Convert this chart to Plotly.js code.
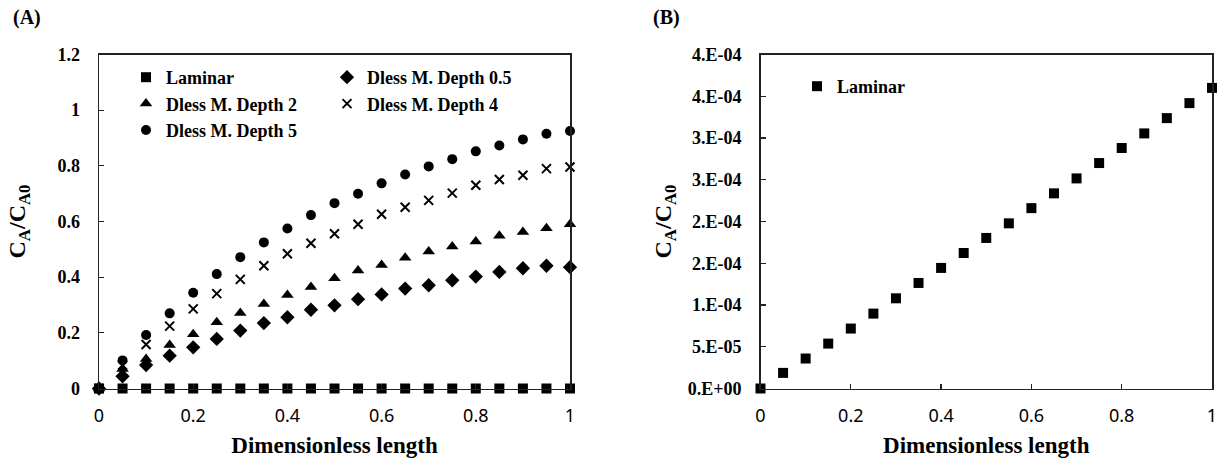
<!DOCTYPE html>
<html>
<head>
<meta charset="utf-8">
<script src="https://cdn.plot.ly/plotly-3.0.1.min.js"></script>
<style>html,body{margin:0;padding:0;background:#fff;}#chart{width:1223px;height:471px;}</style>
</head>
<body>
<div id="chart"></div>
<script>
// ---- data ----
const xLen = [0, 0.05, 0.1, 0.15, 0.2, 0.25, 0.3, 0.35, 0.4, 0.45, 0.5, 0.55, 0.6, 0.65, 0.7, 0.75, 0.8, 0.85, 0.9, 0.95, 1.0];
const laminarA = [0, 0, 0, 0, 0, 0, 0, 0, 0, 0, 0, 0, 0, 0, 0, 0, 0, 0, 0, 0, 0];
const depth05 = [0, 0.044, 0.084, 0.118, 0.148, 0.178, 0.208, 0.235, 0.256, 0.283, 0.299, 0.321, 0.338, 0.359, 0.371, 0.389, 0.402, 0.419, 0.432, 0.441, 0.436];
const depth2  = [0, 0.07, 0.106, 0.156, 0.195, 0.238, 0.271, 0.304, 0.336, 0.365, 0.396, 0.424, 0.444, 0.47, 0.492, 0.51, 0.528, 0.549, 0.562, 0.576, 0.59];
const depth4  = [0, 0.084, 0.158, 0.224, 0.286, 0.341, 0.392, 0.441, 0.484, 0.522, 0.556, 0.59, 0.626, 0.651, 0.676, 0.702, 0.73, 0.751, 0.766, 0.79, 0.796];
const depth5  = [0, 0.101, 0.192, 0.27, 0.344, 0.411, 0.472, 0.525, 0.575, 0.623, 0.666, 0.70, 0.737, 0.769, 0.798, 0.824, 0.852, 0.873, 0.895, 0.915, 0.925];
const laminarB = [0, 1.87e-5, 3.59e-5, 5.38e-5, 7.18e-5, 8.97e-5, 1.08e-4, 1.264e-4, 1.444e-4, 1.623e-4, 1.803e-4, 1.978e-4, 2.16e-4, 2.337e-4, 2.516e-4, 2.70e-4, 2.88e-4, 3.055e-4, 3.238e-4, 3.418e-4, 3.60e-4];
const seriesNames = ["Laminar", "Dless M. Depth 0.5", "Dless M. Depth 2", "Dless M. Depth 4", "Dless M. Depth 5"];
const yTickValsB = [0, 5e-5, 1e-4, 1.5e-4, 2e-4, 2.5e-4, 3e-4, 3.5e-4, 4e-4];
const yTickTextB = ["0.E+00", "5.E-05", "1.E-04", "2.E-04", "2.E-04", "3.E-04", "3.E-04", "4.E-04", "4.E-04"];
const xTitle = "Dimensionless length";
const yTitle = "C<sub>A</sub>/C<sub>A0</sub>";

// ---- styles ----
const serif = "Liberation Serif, Times New Roman, serif";
const sans = "Noto Sans, Liberation Sans, sans-serif";
function sc(y, name, symbol, size, legend, xa, ya, lineW) {
  return {
    x: xLen, y: y, name: name, type: "scatter", mode: "markers",
    xaxis: xa || "x", yaxis: ya || "y", legend: legend, cliponaxis: false,
    marker: {symbol: symbol, size: size, color: "#000", line: {color: "#000", width: lineW || 0}}
  };
}
const traces = [
  sc(laminarA, seriesNames[0], "square", 10, "legend"),
  sc(depth05, seriesNames[1], "diamond", 11, "legend2"),
  sc(depth2, seriesNames[2], "triangle-up", 11, "legend"),
  sc(depth4, seriesNames[3], "x-thin-open", 9, "legend2", null, null, 2),
  sc(depth5, seriesNames[4], "circle", 10, "legend"),
  sc(laminarB, seriesNames[0], "square", 10, "legend3", "x2", "y2")
];

const axisCommon = {
  showline: true, mirror: true, linecolor: "#222", linewidth: 1.5,
  showgrid: false, zeroline: false, ticks: "inside", ticklen: 5, tickwidth: 1.2, tickcolor: "#222"
};
const xCommon = Object.assign({}, axisCommon, {
  range: [0, 1], dtick: 0.2, tick0: 0,
  tickfont: {family: sans, size: 18, color: "#000"}, ticklabelstandoff: 10,
  title: {text: "<b>" + xTitle + "</b>", font: {family: serif, size: 23, color: "#000"}, standoff: 11}
});
const yCommonTitle = {text: "<b>" + yTitle + "</b>", font: {family: serif, size: 24, color: "#000"}, standoff: 14};

const legendCommon = {
  bgcolor: "rgba(0,0,0,0)", borderwidth: 0, xanchor: "left", yanchor: "top",
  font: {family: serif, size: 18, color: "#000", weight: "bold"}, itemwidth: 30, tracegroupgap: 0
};

const layout = {
  width: 1223, height: 471,
  margin: {l: 0, r: 0, t: 0, b: 0},
  paper_bgcolor: "#fff", plot_bgcolor: "#fff",
  showlegend: true,
  xaxis: Object.assign({}, xCommon, {domain: [99 / 1223, 570 / 1223], anchor: "y"}),
  yaxis: Object.assign({}, axisCommon, {
    domain: [1 - 388.5 / 471, 1 - 54.5 / 471], anchor: "x", range: [0, 1.2], dtick: 0.2, tick0: 0,
    tickfont: {family: serif, size: 18, color: "#000", weight: "bold"}, ticklabelstandoff: 14,
    title: Object.assign({}, yCommonTitle, {standoff: 25})
  }),
  xaxis2: Object.assign({}, xCommon, {domain: [760.5 / 1223, 1212 / 1223], anchor: "y2"}),
  yaxis2: Object.assign({}, axisCommon, {
    domain: [1 - 388.5 / 471, 1 - 54.5 / 471], anchor: "x2", range: [0, 4e-4],
    tickmode: "array", tickvals: yTickValsB, ticktext: yTickTextB,
    tickfont: {family: serif, size: 18, color: "#000", weight: "bold"}, ticklabelstandoff: 14,
    title: Object.assign({}, yCommonTitle, {standoff: 9})
  }),
  legend: Object.assign({}, legendCommon, {x: 126 / 1223, y: 1 - 59 / 471}),
  legend2: Object.assign({}, legendCommon, {x: 327 / 1223, y: 1 - 59 / 471}),
  legend3: Object.assign({}, legendCommon, {x: 797 / 1223, y: 1 - 68 / 471}),
  annotations: [
    {text: "<b>(A)</b>", xref: "paper", yref: "paper", x: 27 / 1223, y: 1 - 18 / 471, xanchor: "center", yanchor: "middle", showarrow: false,
     font: {family: serif, size: 20, color: "#000"}},
    {text: "<b>(B)</b>", xref: "paper", yref: "paper", x: 666 / 1223, y: 1 - 18 / 471, xanchor: "center", yanchor: "middle", showarrow: false,
     font: {family: serif, size: 20, color: "#000"}}
  ]
};

Plotly.newPlot("chart", traces, layout, {displayModeBar: false, staticPlot: true});
</script>
</body>
</html>
